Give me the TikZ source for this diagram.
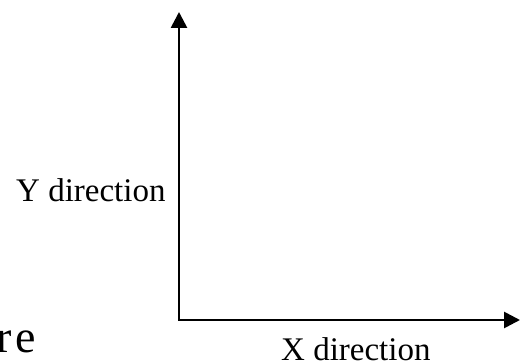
\documentclass[tikz,border=0pt]{standalone}
\usepackage{fontspec}
\setmainfont{Liberation Serif}
\usetikzlibrary{arrows.meta}
\begin{document}
\begin{tikzpicture}[x=1pt,y=-1pt,
  axis/.style={line width=2.7pt, line cap=rect, -{Triangle[length=16pt,width=16pt]}},
  lbl/.style={font=\fontsize{33}{38}\selectfont, inner sep=0pt, anchor=base west},
  biglbl/.style={font=\fontsize{46}{52}\selectfont, inner sep=0pt, anchor=base west}]
\useasboundingbox (0,0) rectangle (528,363);
\coordinate (o) at (179,320);
\coordinate (ytip) at (179,12);
\coordinate (xtip) at (520,320);
\draw[axis] (o) -- (ytip);
\draw[axis] (o) -- (xtip);
\node[lbl] (ylab) at (16,202) {Y direction};
\node[lbl] (xlab) at (281,361) {X direction};
\node[biglbl] (re) at (-4,353) {r\hspace{4pt}e};
\end{tikzpicture}
\end{document}
